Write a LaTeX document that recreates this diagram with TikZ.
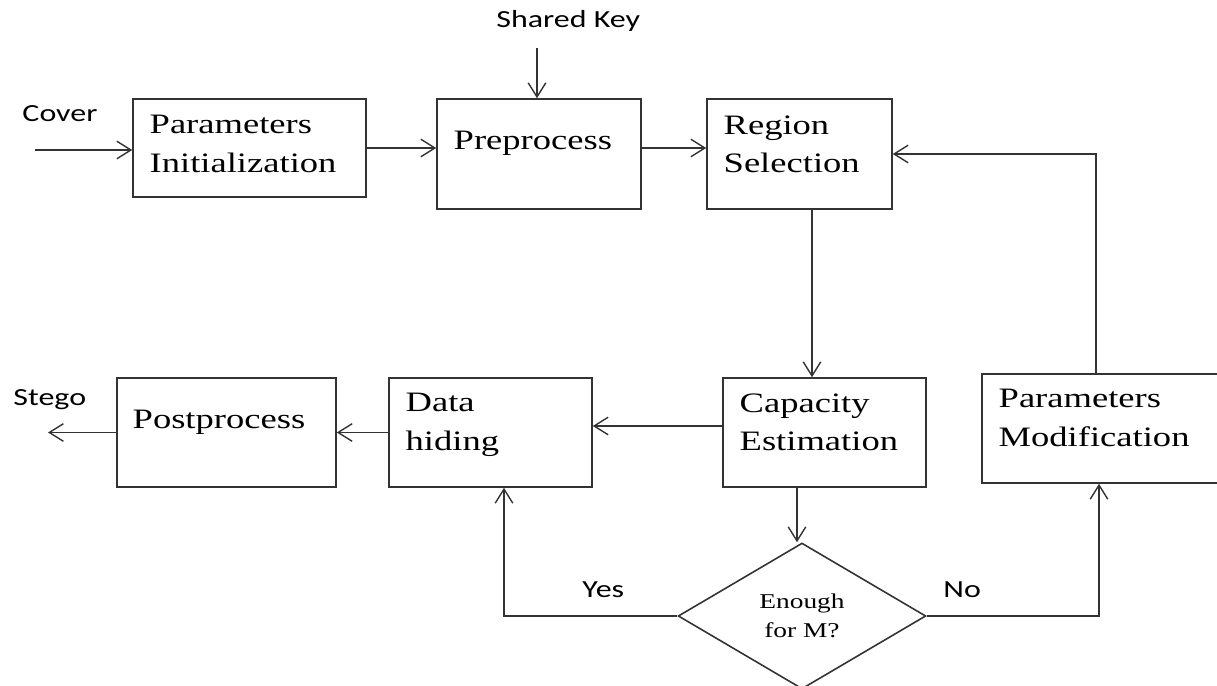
\documentclass[tikz,border=0pt]{standalone}
\usepackage{fontspec}
\setmainfont{Liberation Serif}
\newfontfamily\labelfont{Carlito}
\usetikzlibrary{shapes.geometric}
\usetikzlibrary{arrows.meta}
\definecolor{linegray}{HTML}{333333}

\begin{document}
\begin{tikzpicture}[x=0.02cm,y=-0.02cm,
		box/.style={draw=linegray,line width=0.9pt,rectangle,inner sep=0pt},
		boxtext/.style={anchor=north west,inner sep=0pt,align=left,xscale=1.3,font=\fontsize{16}{22}\selectfont},
		side/.style={anchor=base west,inner sep=0pt,xscale=1.3,font=\labelfont\fontsize{14}{16}\selectfont},
		decision/.style={diamond,draw=linegray,line width=0.9pt,aspect=1.7,inner sep=0pt,minimum width=3.815cm,minimum height=2.92cm,xscale=1.3,align=center,font=\fontsize{12}{16.4}\selectfont},
		arr/.style={draw=linegray,line width=0.8pt,-{Straight Barb[length=8pt,width=10pt]}}]
	\useasboundingbox (0,0) rectangle (1217,686);

	% upper row
	\node[box,minimum width=4.66cm,minimum height=1.96cm] (init) at (249.5,148) {};
	\node[box,minimum width=4.08cm,minimum height=2.2cm] (prep) at (539,154) {};
	\node[box,minimum width=3.7cm,minimum height=2.2cm] (region) at (799.5,154) {};
	\node[boxtext] (initT) at ([shift={(0.34cm,-0.34cm)}]init.north west) {Parameters\\Initialization};
	\node[boxtext] (prepT) at ([shift={(0.34cm,-0.65cm)}]prep.north west) {Preprocess};
	\node[boxtext] (regionT) at ([shift={(0.34cm,-0.34cm)}]region.north west) {Region\\Selection};

	% lower row
	\node[box,minimum width=4.38cm,minimum height=2.18cm] (post) at (226.5,432.5) {};
	\node[box,minimum width=4.06cm,minimum height=2.18cm] (hide) at (490.5,432.5) {};
	\node[box,minimum width=4.06cm,minimum height=2.18cm] (cap) at (824.5,432.5) {};
	\node[box,minimum width=4.96cm,minimum height=2.18cm] (mod) at (1106,428.5) {};
	\node[boxtext] (postT) at ([shift={(0.32cm,-0.65cm)}]post.north west) {Postprocess};
	\node[boxtext] (hideT) at ([shift={(0.34cm,-0.32cm)}]hide.north west) {Data\\hiding};
	\node[boxtext] (capT) at ([shift={(0.34cm,-0.32cm)}]cap.north west) {Capacity\\Estimation};
	\node[boxtext] (modT) at ([shift={(0.34cm,-0.32cm)}]mod.north west) {Parameters\\Modification};

	\node[decision] (dec) at (802,616) {Enough\\for M?};

	% outside labels
	\node[side] (coverL) at (22,122) {Cover};
	\node[side] (keyL) at (496,28) {Shared Key};
	\node[side] (stegoL) at (13,405) {Stego};
	\node[side] (yesL) at (582,597) {Yes};
	\node[side] (noL) at (943,597) {No};
	\coordinate (coverIn) at (35,150);
	\coordinate (keyIn) at (537,48);
	\coordinate (stegoOut) at (48,432.5);

	% connectors
	\draw[arr] (coverIn) -- (coverIn -| init.west);
	\draw[arr] (init.east) -- (init.east -| prep.west);
	\draw[arr] (prep.east |- init.east) -- (init.east -| region.west);
	\draw[arr] (keyIn) -- (keyIn |- prep.north);
	\draw[arr] ([xshift=0.25cm]region.south) -- ([xshift=0.25cm]region.south |- cap.north);
	\draw[arr] ([xshift=-0.2cm]mod.north) |- (region.east);
	\draw[arr] ([yshift=0.13cm]cap.west) -- ([yshift=0.13cm]cap.west -| hide.east);
	\draw[arr] (hide.west) -- (hide.west -| post.east);
	\draw[arr] (post.west) -- (stegoOut);
	\draw[arr] ([xshift=-0.1cm]cap.south -| dec.north) -- ([xshift=-0.1cm]dec.north);
	\draw[arr] (dec.west) -| ([xshift=0.27cm]hide.south);
	\draw[arr] (dec.east) -| ([xshift=-0.14cm]mod.south);
\end{tikzpicture}
\end{document}
